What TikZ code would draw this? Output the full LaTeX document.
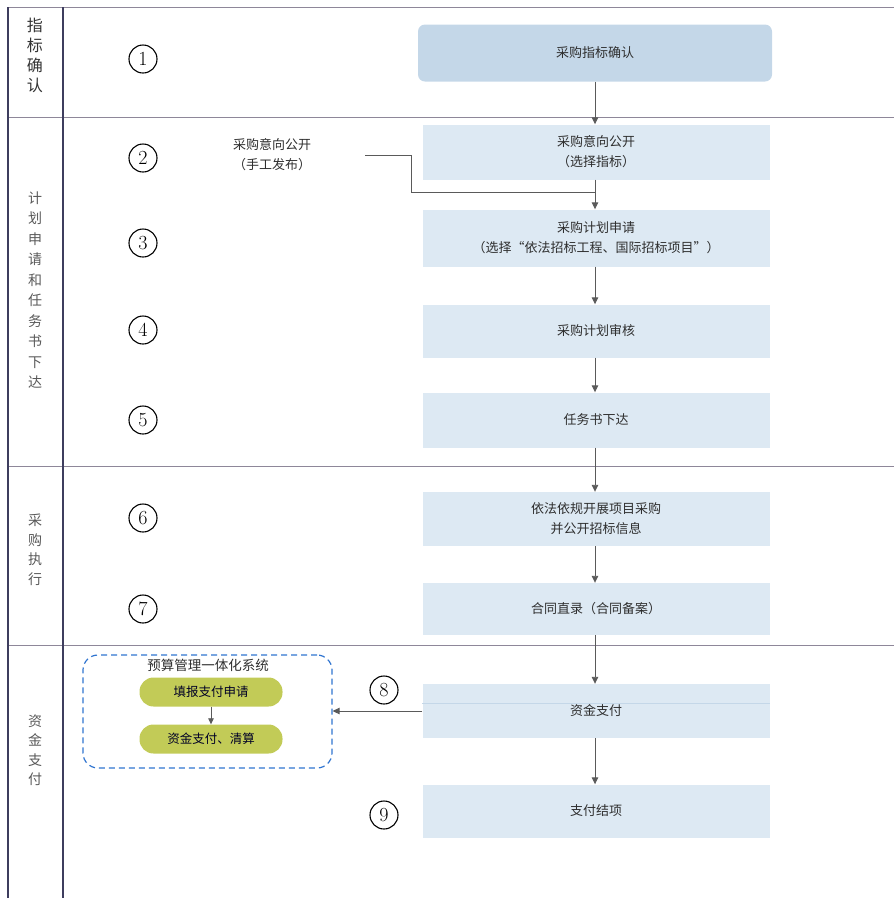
\documentclass[tikz,border=0pt]{standalone}
\usepackage{fontspec}
\newfontfamily\cjk{Noto Sans CJK SC}
\usetikzlibrary{arrows.meta}
\definecolor{lanegray}{HTML}{8E8799}
\definecolor{framenavy}{HTML}{3E3D5E}
\definecolor{boxblue}{HTML}{DDE9F3}
\definecolor{boxbluedark}{HTML}{C4D7E8}
\definecolor{arrowgray}{HTML}{5A5A5A}
\definecolor{dashblue}{HTML}{2F74D0}
\definecolor{pillgreen}{HTML}{C2CB57}
\definecolor{inkdark}{HTML}{2E2E2E}
\begin{document}
\begin{tikzpicture}[x=1pt,y=-1pt,
  stepbox/.style={fill=boxblue, minimum width=347pt, minimum height=54pt,
    align=center, inner sep=0pt, text=inkdark,
    font=\cjk\fontsize{13}{20}\selectfont},
  flow/.style={draw=arrowgray, line width=0.9pt,
    -{Triangle[length=7pt,width=6.5pt]}},
  plainline/.style={draw=arrowgray, line width=0.9pt},
  numcirc/.style={circle, draw=black, line width=1.1pt, minimum size=28pt,
    inner sep=0pt, font=\fontsize{20}{20}\selectfont},
  lanelabel/.style={align=center, text=black!65,
    font=\cjk\fontsize{14}{19.5}\selectfont},
  pill/.style={fill=pillgreen, rounded corners=14pt, minimum width=143pt,
    minimum height=29pt, inner sep=0pt, text=black!85!blue,
    font=\cjk\fontsize{12.5}{15}\selectfont},
  laneline/.style={draw=lanegray, line width=0.9pt},
  frameline/.style={draw=framenavy, line width=1.2pt}
]
\useasboundingbox (0,0) rectangle (894,898);

% swimlane frame
\draw[laneline] (8,7) -- (894,7);
\draw[laneline] (8,117) -- (894,117);
\draw[laneline] (8,466) -- (894,466);
\draw[laneline] (8,645) -- (894,645);
\draw[frameline] (8,7) -- (8,898);
\draw[frameline] (63,7) -- (63,898);

% lane titles
\node[lanelabel, text=black!80, font=\cjk\fontsize{16}{20}\selectfont]
  (lane1) at (35,55) {指\\标\\确\\认};
\node[lanelabel, font=\cjk\fontsize{14}{20.5}\selectfont]
  (lane2) at (35,290) {计\\划\\申\\请\\和\\任\\务\\书\\下\\达};
\node[lanelabel] (lane3) at (35,550) {采\\购\\执\\行};
\node[lanelabel] (lane4) at (35,750) {资\\金\\支\\付};

% step numbers
\node[numcirc] (n1) at (143,59) {1};
\node[numcirc] (n2) at (143,158) {2};
\node[numcirc] (n3) at (143,243) {3};
\node[numcirc] (n4) at (143,330) {4};
\node[numcirc] (n5) at (143,420) {5};
\node[numcirc] (n6) at (143,518) {6};
\node[numcirc] (n7) at (143,609) {7};
\node[numcirc] (n8) at (384,690) {8};
\node[numcirc] (n9) at (384,815) {9};

% process steps
\node[stepbox, fill=boxbluedark, rounded corners=7pt, minimum width=354pt,
  minimum height=57pt] (s1) at (595,53) {采购指标确认};
\node[stepbox, minimum height=55pt] (s2) at (596,152) {采购意向公开\\（选择指标）};
\node[stepbox, minimum height=57pt] (s3) at (596,238)
  {采购计划申请\\（选择“依法招标工程、国际招标项目”）};
\node[stepbox, minimum height=53pt] (s4) at (596,331) {采购计划审核};
\node[stepbox, minimum height=55pt] (s5) at (596,420) {任务书下达};
\node[stepbox, minimum height=54pt] (s6) at (596,519) {依法依规开展项目采购\\并公开招标信息};
\node[stepbox, minimum height=52pt] (s7) at (596,609) {合同直录（合同备案）};
\node[stepbox, minimum height=54pt] (s8) at (596,711) {资金支付};
\draw[draw=boxbluedark, line width=0.6pt]
  (s8.west |- 0,703) -- (s8.east |- 0,703);
\node[stepbox, minimum height=53pt] (s9) at (596,811) {支付结项};

% manual publication branch
\node[align=center, text=inkdark, font=\cjk\fontsize{13}{20}\selectfont]
  (manual) at (272,155) {采购意向公开\\（手工发布）};
\coordinate (mstart) at (365,155);
\coordinate (mjog) at (411,155);
\coordinate (mjoin) at (595,192);

% main flow
\draw[flow] (s1.south -| 595,0) -- (s2.north -| 595,0);
\draw[flow] (s2.south -| 595,0) -- (s3.north -| 595,0);
\draw[plainline] (mstart) -- (mjog) |- (mjoin);
\draw[flow] (s3.south -| 595,0) -- (s4.north -| 595,0);
\draw[flow] (s4.south -| 595,0) -- (s5.north -| 595,0);
\draw[flow] (s5.south -| 595,0) -- (s6.north -| 595,0);
\draw[flow] (s6.south -| 595,0) -- (s7.north -| 595,0);
\draw[flow] (s7.south -| 595,0) -- (s8.north -| 595,0);
\draw[flow] (s8.south -| 595,0) -- (s9.north -| 595,0);

% budget management system
\node[draw=dashblue, dashed, dash pattern=on 6pt off 4pt, line width=1.2pt,
  rounded corners=15pt, minimum width=249pt, minimum height=113pt]
  (sys) at (207.5,711.5) {};
\node[text=inkdark, font=\cjk\fontsize{13.5}{16}\selectfont]
  (systitle) at (208,665) {预算管理一体化系统};
\node[pill] (p1) at (211,692) {填报支付申请};
\node[pill] (p2) at (211,739) {资金支付、清算};
\draw[flow, line width=0.8pt, -{Triangle[length=6pt,width=5.5pt]}] (p1) -- (p2);
\draw[flow] (s8.west) -- (sys.east |- s8.west);
\end{tikzpicture}
\end{document}
